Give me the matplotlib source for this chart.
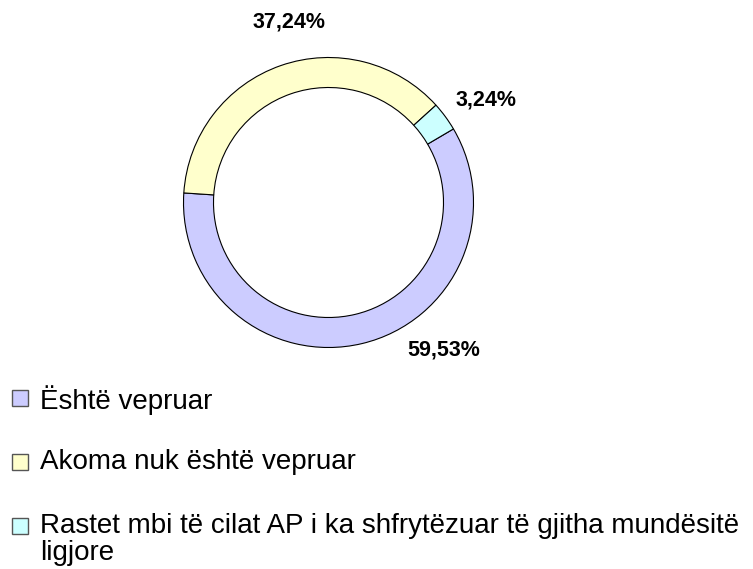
import matplotlib
matplotlib.use("Agg")
import matplotlib.pyplot as plt
from matplotlib.patches import Rectangle

plt.rcParams["font.family"] = ["Liberation Sans", "DejaVu Sans"]

# data
categories = [
    "Është vepruar",
    "Akoma nuk është vepruar",
    "Rastet mbi të cilat AP i ka shfrytëzuar të gjitha mundësitë\nligjore",
]
values = [59.53, 37.24, 3.24]
value_labels = ["59,53%", "37,24%", "3,24%"]
colors = ["#CCCCFF", "#FFFFCC", "#CCFFFF"]

# label positions (axes data units, ring radius = 1)
label_pos = [(0.797, -1.017), (-0.272, 1.245), (1.086, 0.707)]

W, H = 753, 569
fig = plt.figure(figsize=(W / 100, H / 100), dpi=100)

# ring: centre (328.5, 202.5) px, outer radius 145 px
cx, cy, R = 328.5, 202.5, 145
ax = fig.add_axes([(cx - R) / W, (H - cy - R) / H, 2 * R / W, 2 * R / H])
ax.pie(values, colors=colors, startangle=30.5, counterclock=False, radius=1,
       wedgeprops=dict(width=30 / 145, edgecolor="black", linewidth=0.8))
ax.set_xlim(-1, 1)
ax.set_ylim(-1, 1)
ax.set_aspect("equal")
ax.axis("off")

for (x, y), txt in zip(label_pos, value_labels):
    ax.text(x, y, txt, ha="center", va="center", fontsize=15.5,
            fontweight="bold", clip_on=False)

# legend drawn by hand, Excel style
row_y = [398, 462, 526]
for yy, col, lab in zip(row_y, colors, categories):
    fig.patches.append(Rectangle((12 / W, 1 - (yy + 8) / H), 16 / W, 16 / H,
                                 transform=fig.transFigure, facecolor=col,
                                 edgecolor="#555555", linewidth=1))
    fig.text(40 / W, 1 - (yy - 13) / H, lab, ha="left", va="top",
             fontsize=20, linespacing=1.05)

fig.savefig("out.png", dpi=100)
